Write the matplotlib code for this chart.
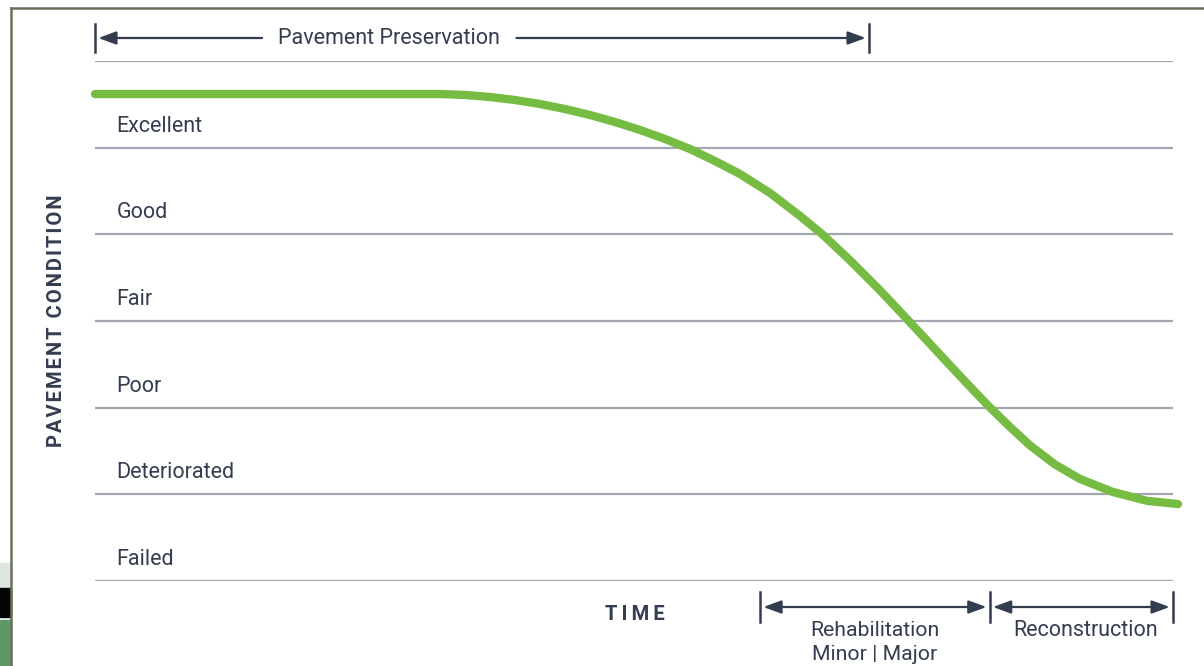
import matplotlib.pyplot as plt
from matplotlib.patches import Rectangle
from matplotlib.transforms import blended_transform_factory

# condition levels, bottom (0) to top (6): labels sit between lines
levels = [0, 1, 2, 3, 4, 5, 6]
condition_labels = ['Failed', 'Deteriorated', 'Poor', 'Fair', 'Good', 'Excellent']

# deterioration curve: time (0-100) vs condition level
time = [0, 32.0, 34.32, 36.64, 38.96, 41.28, 43.60, 45.92, 48.24, 50.56, 52.88,
        55.19, 57.51, 59.83, 62.62, 65.40, 67.44, 70.04, 72.82, 75.32, 77.18,
        79.04, 80.98, 82.84, 84.88, 86.73, 89.05, 91.37, 94.43, 97.59, 100.46]
condition = [5.619, 5.619, 5.608, 5.585, 5.550, 5.504, 5.446, 5.377, 5.296, 5.204, 5.100,
             4.985, 4.846, 4.696, 4.477, 4.212, 4.004, 3.700, 3.354, 3.023, 2.774,
             2.525, 2.267, 2.025, 1.777, 1.565, 1.345, 1.177, 1.027, 0.925, 0.888]

# treatment windows along the time axis
preservation = (0, 71.8)
rehabilitation = (61.7, 83.0)
reconstruction = (83.0, 100)

NAVY = '#343c50'
GRID = '#a3a6af'
GREEN = '#76bc43'
FONT = ['Roboto', 'DejaVu Sans']

W, H = 1204, 666
fig = plt.figure(figsize=(W / 100, H / 100), dpi=100)
fig.patch.set_facecolor('white')

# frame + photo fragment at the bottom-left edge
fig.patches.append(Rectangle((0, 1 - 588 / H), 11 / W, 25 / H, transform=fig.transFigure, color='#dde6df'))
fig.patches.append(Rectangle((0, 1 - 617 / H), 11 / W, 29 / H, transform=fig.transFigure, color='#050505'))
fig.patches.append(Rectangle((0, 0), 11 / W, 46 / H, transform=fig.transFigure, color='#5e9868'))
fig.add_artist(plt.Line2D([11 / W, 1], [1 - 8 / H, 1 - 8 / H], transform=fig.transFigure, color='#6c6f5c', lw=1.8))
fig.add_artist(plt.Line2D([11 / W, 11 / W], [0, 1 - 8 / H], transform=fig.transFigure, color='#6c6f5c', lw=1.8))

ax = fig.add_axes([95 / W, 1 - 581 / H, (1173 - 95) / W, (581 - 61) / H])
ax.set_xlim(0, 100)
ax.set_ylim(0, 6)
ax.axis('off')

ax.hlines(levels, 0, 100, color=GRID, lw=1.6, zorder=1)
for i, lab in enumerate(condition_labels):
    ax.text(2.0, i + 0.25, lab, ha='left', va='center', fontsize=15.5,
            color=NAVY, family=FONT)

ax.plot(time, condition, color=GREEN, lw=6, solid_capstyle='round',
        solid_joinstyle='round', clip_on=False, zorder=3)

tr = blended_transform_factory(ax.transData, ax.transAxes)
head = '-|>,head_length=0.6,head_width=0.22'
both = '<|-|>,head_length=0.6,head_width=0.22'
aprops = dict(color=NAVY, lw=1.6, shrinkA=0, shrinkB=0, mutation_scale=18)


def bar(t, y0, y1):
    ax.plot([t, t], [y0, y1], color=NAVY, lw=1.8, transform=tr, clip_on=False)


# top: pavement preservation span
yt = (581 - 38) / 520
ax.annotate('', xy=(preservation[0] + 0.3, yt), xytext=(15.5, yt), xycoords=tr, textcoords=tr,
            arrowprops=dict(arrowstyle=head, **aprops))
ax.annotate('', xy=(preservation[1] - 0.3, yt), xytext=(39.1, yt), xycoords=tr, textcoords=tr,
            arrowprops=dict(arrowstyle=head, **aprops))
bar(preservation[0], yt - 0.026, yt + 0.026)
bar(preservation[1], yt - 0.026, yt + 0.026)
ax.text(27.3, yt, 'Pavement Preservation', transform=tr, ha='center', va='center',
        fontsize=15.5, color=NAVY, family=FONT)

# bottom: rehabilitation / reconstruction spans
yb = (581 - 607) / 520
ax.annotate('', xy=(rehabilitation[0] + 0.3, yb), xytext=(rehabilitation[1] - 0.3, yb),
            xycoords=tr, textcoords=tr, arrowprops=dict(arrowstyle=both, **aprops))
ax.annotate('', xy=(reconstruction[0] + 0.3, yb), xytext=(reconstruction[1] - 0.3, yb),
            xycoords=tr, textcoords=tr, arrowprops=dict(arrowstyle=both, **aprops))
for t in [rehabilitation[0], rehabilitation[1], reconstruction[1]]:
    bar(t, yb - 0.029, yb + 0.029)
ax.text(sum(rehabilitation) / 2, (581 - 630) / 520, 'Rehabilitation', transform=tr,
        ha='center', va='center', fontsize=15.3, color=NAVY, family=FONT)
ax.text(sum(rehabilitation) / 2, (581 - 655) / 520, 'Minor | Major', transform=tr,
        ha='center', va='center', fontsize=15.3, color=NAVY, family=FONT)
ax.text(sum(reconstruction) / 2 + 0.4, (581 - 630) / 520, 'Reconstruction', transform=tr,
        ha='center', va='center', fontsize=15.5, color=NAVY, family=FONT)

ax.text(50.1, (581 - 614) / 520, '\u2009'.join('TIME'), transform=tr, ha='center', va='center',
        fontsize=14.5, fontweight='bold', color=NAVY, family=FONT)
fig.text(57 / W, 1 - 321 / H, '\u200a'.join('PAVEMENT CONDITION'), rotation=90, ha='center',
         va='center', fontsize=14.5, fontweight='bold', color=NAVY, family=FONT)

fig.savefig('out.png', dpi=100)
